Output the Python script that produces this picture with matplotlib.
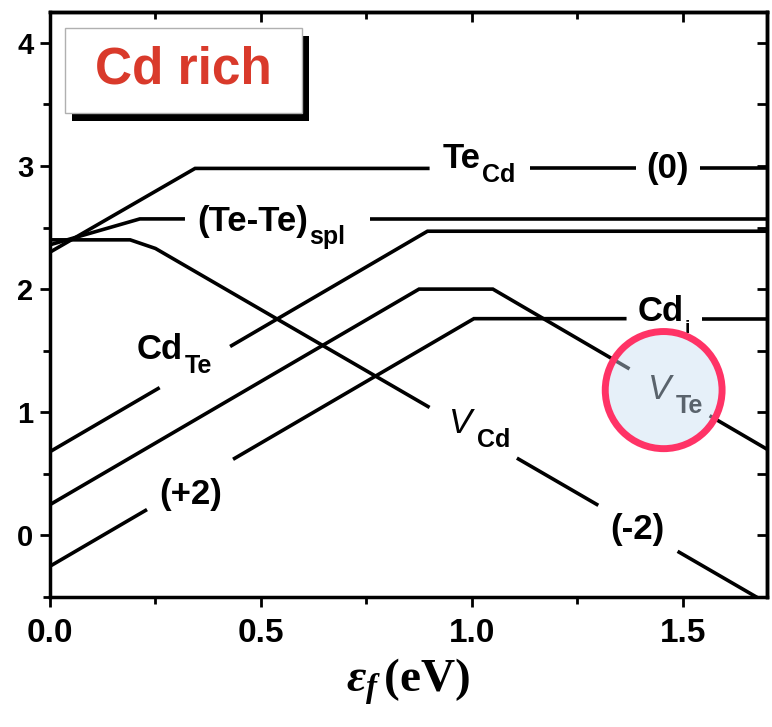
import matplotlib
matplotlib.use("Agg")
import matplotlib.pyplot as plt
from matplotlib.patches import Rectangle, Ellipse
from matplotlib.ticker import MultipleLocator
import numpy as np

plt.rcParams["font.family"] = ["Liberation Sans", "DejaVu Sans"]
plt.rcParams["mathtext.fontset"] = "custom"
plt.rcParams["mathtext.it"] = "Liberation Serif:italic:bold"
plt.rcParams["mathtext.sf"] = "Liberation Sans:italic"

# Formation energy vs Fermi level, piecewise-linear (x in eV, y in eV)
te_cd_x = [0.0, 0.344, 1.7]
te_cd_y = [2.30, 2.98, 2.98]
tete_x = [0.0, 0.213, 1.7]
tete_y = [2.36, 2.57, 2.57]
cd_te_x = [0.0, 0.895, 1.7]
cd_te_y = [0.68, 2.47, 2.47]
v_te_x = [0.0, 0.875, 1.05, 1.7]
v_te_y = [0.25, 2.00, 2.00, 0.70]
cd_i_x = [0.0, 1.005, 1.7]
cd_i_y = [-0.25, 1.76, 1.76]
v_cd_x = [0.0, 0.19, 0.25, 1.7]
v_cd_y = [2.40, 2.40, 2.33, -0.55]

# label gaps along each line (x ranges)
te_cd_gaps = [(0.90, 1.137), (1.39, 1.54)]
tete_gaps = [(0.32, 0.758)]
cd_te_gaps = [(0.26, 0.427)]
v_te_gaps = [(1.374, 1.564)]
cd_i_gaps = [(0.23, 0.434), (1.367, 1.547)]
v_cd_gaps = [(0.90, 1.107), (1.30, 1.488)]

LINE_KW = dict(color="black", lw=2.6, solid_capstyle="butt", solid_joinstyle="miter")


def plot_broken(ax, xs, ys, gaps):
    xs = np.asarray(xs)
    ys = np.asarray(ys)
    edges = [xs[0]] + [v for g in gaps for v in g] + [xs[-1]]
    for a, b in zip(edges[0::2], edges[1::2]):
        inner = (xs > a) & (xs < b)
        px = np.concatenate([[a], xs[inner], [b]])
        py = np.concatenate([[np.interp(a, xs, ys)], ys[inner], [np.interp(b, xs, ys)]])
        ax.plot(px, py, **LINE_KW)


def label(ax, x, y, main, sub=None, sub_size=18, drop=-5, **kw):
    t = ax.text(x, y, main, ha="left", va="baseline", fontsize=25,
                fontweight="bold", color="black", **kw)
    if sub:
        ax.annotate(sub, xy=(1, 0), xycoords=t, xytext=(1, drop),
                    textcoords="offset points", ha="left", va="baseline",
                    fontsize=sub_size, fontweight="bold", color="black", **kw)
    return t


fig = plt.figure(figsize=(7.72, 7.27), dpi=100)
ax = fig.add_axes([50 / 772, 1 - 597 / 727, 717 / 772, 585 / 727])

plot_broken(ax, te_cd_x, te_cd_y, te_cd_gaps)
plot_broken(ax, tete_x, tete_y, tete_gaps)
plot_broken(ax, cd_te_x, cd_te_y, cd_te_gaps)
plot_broken(ax, v_te_x, v_te_y, v_te_gaps)
plot_broken(ax, cd_i_x, cd_i_y, cd_i_gaps)
plot_broken(ax, v_cd_x, v_cd_y, v_cd_gaps)

label(ax, 0.931, 2.98, "Te", "Cd")
label(ax, 0.348, 2.47, "(Te-Te)", "spl", drop=-4)
label(ax, 0.206, 1.43, "Cd", "Te")
label(ax, 0.943, 0.83, r"$\mathsf{V}$", "Cd")
label(ax, 1.393, 1.745, "Cd", "i", sub_size=14, drop=-4)
label(ax, 1.415, 1.11, r"$\mathsf{V}$", "Te")
for x, y, s in [(1.465, 2.98, "(0)"), (0.334, 0.33, "(+2)"), (1.393, 0.05, "(-2)")]:
    ax.text(x, y, s, ha="center", va="center", fontsize=25, fontweight="bold")

# highlight ring around the V_Te label
ax.add_patch(Ellipse((1.455, 1.18), 0.277, 0.951, facecolor="#c8def2",
                     alpha=0.45, edgecolor="none", zorder=5))
ax.add_patch(Ellipse((1.455, 1.18), 0.277, 0.951, facecolor="none",
                     edgecolor="#ff3366", lw=5, zorder=6))

# "Cd rich" tag with drop shadow
bx0, by0, bw, bh = 0.0209, 0.8274, 0.3306, 0.1452
ax.add_patch(Rectangle((bx0 + 0.0095, by0 - 0.013), bw, bh, transform=ax.transAxes,
                       facecolor="black", edgecolor="none", zorder=7))
ax.add_patch(Rectangle((bx0, by0), bw, bh, transform=ax.transAxes,
                       facecolor="white", edgecolor="#b0b0b0", lw=1, zorder=8))
ax.text(bx0 + bw / 2, by0 + bh / 2, "Cd rich", transform=ax.transAxes, ha="center",
        va="center", fontsize=37, fontweight="bold", color="#d93a2b", zorder=9)

ax.set_xlim(0, 1.7)
ax.set_ylim(-0.5, 4.25)
ax.set_xticks([0.0, 0.5, 1.0, 1.5])
ax.set_yticks([0, 1, 2, 3, 4])
ax.xaxis.set_minor_locator(MultipleLocator(0.25))
ax.yaxis.set_minor_locator(MultipleLocator(0.5))
ax.tick_params(which="both", direction="out", width=2)
ax.tick_params(which="major", length=7)
ax.tick_params(which="minor", length=5)
ax.tick_params(axis="x", labelsize=24, pad=8)
ax.tick_params(axis="y", labelsize=21, pad=5)
for t in ax.get_xticklabels() + ax.get_yticklabels():
    t.set_fontweight("bold")
for s in ax.spines.values():
    s.set_linewidth(2.5)

top = ax.secondary_xaxis("top")
top.set_xticks([0.0, 0.5, 1.0, 1.5])
top.xaxis.set_minor_locator(MultipleLocator(0.25))
top.tick_params(which="both", direction="in", width=2, labeltop=False)
top.tick_params(which="major", length=7)
top.tick_params(which="minor", length=5)
top.spines["top"].set_linewidth(2.5)
right = ax.secondary_yaxis("right")
right.set_yticks([0, 1, 2, 3, 4])
right.yaxis.set_minor_locator(MultipleLocator(0.5))
right.tick_params(which="both", direction="in", width=2, labelright=False)
right.tick_params(which="major", length=7)
right.tick_params(which="minor", length=7)
right.spines["right"].set_linewidth(2.5)

ax.set_xlabel(r"$\varepsilon_f\,$(eV)", fontfamily="Liberation Serif", fontweight="bold",
              fontsize=34, labelpad=6)

fig.savefig("out.png", dpi=100, facecolor="white")
